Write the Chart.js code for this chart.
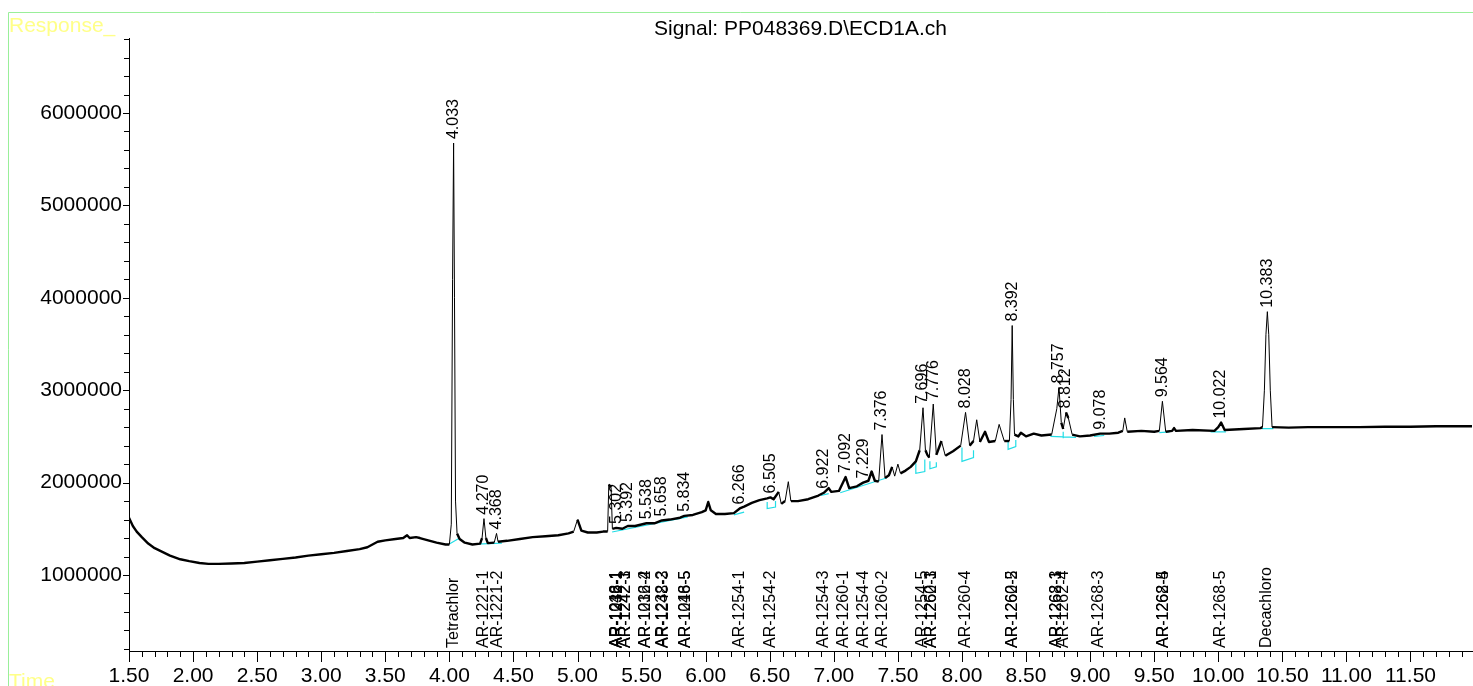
<!DOCTYPE html>
<html>
<head>
<meta charset="utf-8">
<script src="https://cdn.jsdelivr.net/npm/chart.js@4.4.1/dist/chart.umd.min.js"></script>
<style>
  html, body { margin: 0; padding: 0; background: #fff; }
  #wrap { width: 1473px; height: 686px; position: relative; }
</style>
</head>
<body>
<div id="wrap"><canvas id="chromChart"></canvas></div>
<script>
// retention time (min) and detector response
var times = [1.50,1.53,1.56,1.60,1.65,1.70,1.76,1.82,1.90,1.97,2.05,2.12,2.20,2.30,2.40,2.50,2.60,2.70,2.80,2.90,
  3.00,3.10,3.20,3.30,3.36,3.40,3.44,3.50,3.58,3.64,3.67,3.69,3.74,3.77,3.82,3.90,3.97,4.00,4.015,4.025,
  4.033,4.040,4.048,4.06,4.08,4.12,4.18,4.24,4.255,4.270,4.285,4.30,4.35,4.368,4.38,4.45,4.55,4.65,4.75,4.85,
  4.93,4.97,5.00,5.03,5.08,5.15,5.20,5.235,5.244,5.262,5.272,5.302,5.35,5.392,5.45,5.538,5.60,5.658,5.72,5.80,
  5.834,5.90,5.97,6.00,6.02,6.04,6.08,6.15,6.22,6.266,6.30,6.36,6.42,6.48,6.505,6.53,6.57,6.59,6.62,6.645,
  6.665,6.72,6.80,6.88,6.922,6.96,6.98,7.04,7.092,7.12,7.18,7.229,7.27,7.295,7.32,7.35,7.376,7.40,7.43,7.455,
  7.475,7.50,7.52,7.56,7.60,7.64,7.67,7.696,7.715,7.73,7.745,7.776,7.80,7.84,7.87,7.93,7.99,8.028,8.06,8.09,
  8.115,8.14,8.18,8.21,8.26,8.29,8.33,8.37,8.383,8.392,8.401,8.41,8.44,8.46,8.50,8.56,8.62,8.70,8.74,8.757,
  8.775,8.79,8.812,8.83,8.86,8.92,9.00,9.078,9.15,9.22,9.255,9.27,9.29,9.40,9.50,9.54,9.564,9.59,9.64,9.655,
  9.67,9.80,9.97,10.00,10.022,10.05,10.20,10.33,10.345,10.36,10.372,10.383,10.394,10.406,10.42,10.55,10.70,10.90,11.10,11.30,
  11.50,11.70,11.98];
var response = [1620000,1530000,1470000,1410000,1340000,1290000,1250000,1210000,1170000,1150000,1130000,1120000,1120000,1125000,1130000,1145000,1160000,1175000,1190000,1210000,
  1225000,1240000,1260000,1280000,1300000,1330000,1360000,1375000,1390000,1400000,1430000,1400000,1410000,1400000,1380000,1350000,1330000,1330000,1550000,4200000,
  5675000,4000000,1800000,1450000,1390000,1350000,1330000,1340000,1400000,1610000,1400000,1345000,1350000,1450000,1360000,1370000,1390000,1410000,1420000,1430000,
  1450000,1470000,1600000,1480000,1460000,1460000,1470000,1470000,1980000,1950000,1500000,1510000,1500000,1530000,1530000,1560000,1560000,1590000,1600000,1620000,
  1640000,1650000,1680000,1700000,1790000,1700000,1660000,1660000,1670000,1720000,1740000,1780000,1810000,1830000,1840000,1820000,1900000,1770000,1800000,2010000,
  1800000,1800000,1820000,1860000,1890000,1940000,1900000,1910000,2060000,1940000,1960000,2000000,2020000,2120000,2020000,2010000,2520000,2050000,2080000,2170000,
  2070000,2200000,2100000,2130000,2170000,2230000,2350000,2810000,2350000,2300000,2270000,2850000,2300000,2450000,2290000,2340000,2400000,2760000,2400000,2450000,
  2680000,2440000,2550000,2440000,2450000,2630000,2450000,2450000,2900000,3700000,2900000,2520000,2500000,2540000,2500000,2530000,2510000,2520000,2800000,3030000,
  2650000,2580000,2760000,2700000,2520000,2500000,2510000,2530000,2530000,2540000,2560000,2700000,2550000,2560000,2550000,2560000,2880000,2550000,2560000,2590000,
  2560000,2570000,2560000,2600000,2650000,2570000,2580000,2590000,2600000,3000000,3600000,3850000,3600000,3000000,2600000,2595000,2600000,2600000,2600000,2605000,
  2605000,2610000,2610000];

// integration baselines (cyan), each a short polyline of [time, response]
var baseLines = [
  [[4.00,1335000],[4.08,1400000]],
  [[4.21,1335000],[4.41,1345000]],
  [[5.27,1465000],[5.86,1630000]],
  [[6.22,1650000],[6.30,1680000]],
  [[6.48,1790000],[6.48,1720000],[6.545,1735000],[6.545,1800000]],
  [[6.90,1860000],[6.96,1880000]],
  [[7.05,1890000],[7.41,2050000]],
  [[7.64,2210000],[7.64,2100000],[7.71,2120000],[7.71,2250000]],
  [[7.75,2230000],[7.75,2150000],[7.80,2170000],[7.80,2220000]],
  [[8.00,2380000],[8.00,2230000],[8.09,2270000],[8.09,2350000]],
  [[8.36,2440000],[8.36,2360000],[8.42,2390000],[8.42,2460000]],
  [[8.69,2500000],[8.89,2490000]],
  [[8.79,2480000],[8.79,2550000]],
  [[9.03,2500000],[9.11,2510000]],
  [[9.54,2540000],[9.62,2550000]],
  [[9.94,2550000],[10.06,2550000]],
  [[10.34,2585000],[10.43,2585000]]
];

var peakTimes = [4.033,4.270,4.368,5.302,5.392,5.538,5.658,5.834,6.266,6.505,6.922,7.092,7.229,7.376,7.696,7.776,8.028,8.392,8.757,8.812,9.078,9.564,10.022,10.383];

var compoundTimes = [4.035,4.27,4.375,5.305,5.305,5.31,5.375,5.375,5.53,5.535,5.665,5.67,5.84,5.845,
  6.265,6.51,6.92,7.08,7.23,7.38,7.69,7.76,7.765,8.03,8.395,8.395,8.735,8.74,8.79,9.07,9.57,9.575,10.02,10.38];
var compoundNames = ["Tetrachlor","AR-1221-1","AR-1221-2","AR-1016-1","AR-1248-1","AR-1232-1","AR-1242-1","AR-1242-3","AR-1232-4","AR-1016-2","AR-1232-2","AR-1248-3","AR-1016-5","AR-1248-5",
  "AR-1254-1","AR-1254-2","AR-1254-3","AR-1260-1","AR-1254-4","AR-1260-2","AR-1254-5","AR-1260-3","AR-1262-1","AR-1260-4","AR-1260-5","AR-1262-2","AR-1268-1","AR-1262-3","AR-1262-4","AR-1268-3","AR-1268-4","AR-1262-5","AR-1268-5","Decachloro"];

var xTickValues = [1.5,2.0,2.5,3.0,3.5,4.0,4.5,5.0,5.5,6.0,6.5,7.0,7.5,8.0,8.5,9.0,9.5,10.0,10.5,11.0,11.5];
var yTickValues = [1000000,2000000,3000000,4000000,5000000,6000000];

var traceData = times.map(function (t, i) { return {x: t, y: response[i]}; });
var cyanData = [];
baseLines.forEach(function (seg) {
  seg.forEach(function (p) { cyanData.push({x: p[0], y: p[1]}); });
  cyanData.push({x: seg[seg.length - 1][0], y: null});
});

var FONT = "'Liberation Sans', Arial, sans-serif";

// frame, titles, minor/major ticks and peak annotations
var decor = {
  id: 'decor',
  beforeDraw: function (chart) {
    var ctx = chart.ctx;
    ctx.save();
    ctx.strokeStyle = '#99ef99';
    ctx.lineWidth = 1;
    ctx.beginPath();
    ctx.moveTo(8.5, 686);
    ctx.lineTo(8.5, 12.5);
    ctx.lineTo(1473, 12.5);
    ctx.stroke();
    ctx.fillStyle = '#ffff88';
    ctx.font = '21px ' + FONT;
    ctx.textAlign = 'left';
    ctx.textBaseline = 'alphabetic';
    ctx.fillText('Response_', 9, 32);
    ctx.fillText('Time', 9, 688);
    ctx.fillStyle = '#000';
    ctx.textAlign = 'center';
    ctx.fillText('Signal: PP048369.D\\ECD1A.ch', (chart.chartArea.left + chart.chartArea.right) / 2, 35);
    ctx.restore();
  },
  afterDatasetsDraw: function (chart) {
    var ctx = chart.ctx, xs = chart.scales.x, ys = chart.scales.y;
    var area = chart.chartArea;
    ctx.save();
    ctx.strokeStyle = '#000';
    ctx.lineWidth = 1;
    ctx.beginPath();
    for (var k = 15; k * 0.1 <= xs.max + 1e-9; k++) {
      var px = Math.round(xs.getPixelForValue(k / 10)) + 0.5;
      var len = (k % 5 === 0) ? 11 : 6;
      ctx.moveTo(px, area.bottom);
      ctx.lineTo(px, area.bottom + len);
    }
    for (var j = 1; j * 200000 <= ys.max; j++) {
      var v = j * 200000;
      if (v < ys.min) continue;
      var py = Math.round(ys.getPixelForValue(v)) + 0.5;
      var l = (j % 5 === 0) ? 6 : 5;
      ctx.moveTo(area.left - l, py);
      ctx.lineTo(area.left, py);
    }
    ctx.stroke();

    ctx.fillStyle = '#000';
    ctx.font = '16px ' + FONT;
    ctx.textAlign = 'left';
    ctx.textBaseline = 'middle';
    peakTimes.forEach(function (pt) {
      var top = 0;
      times.forEach(function (t, i) {
        if (Math.abs(t - pt) <= 0.012 && response[i] > top) top = response[i];
      });
      var x = xs.getPixelForValue(pt);
      var y = ys.getPixelForValue(top) - 4;
      ctx.save();
      ctx.translate(x, y);
      ctx.rotate(-Math.PI / 2);
      ctx.fillText(pt.toFixed(3), 0, 0);
      ctx.restore();
    });
    compoundTimes.forEach(function (ct, i) {
      var x = xs.getPixelForValue(ct);
      ctx.save();
      ctx.translate(x, area.bottom - 3);
      ctx.rotate(-Math.PI / 2);
      ctx.fillText(compoundNames[i], 0, 0);
      ctx.restore();
    });
    ctx.restore();
  }
};

new Chart(document.getElementById('chromChart'), {
  type: 'line',
  data: {
    datasets: [{
      data: traceData,
      borderColor: '#000',
      borderWidth: 2,
      borderJoinStyle: 'round',
      pointRadius: 0,
      tension: 0,
      segment: {
        borderWidth: function (c) {
          var dx = Math.abs(c.p1.x - c.p0.x), dy = Math.abs(c.p1.y - c.p0.y);
          return dy > 2 * dx + 4 ? 1 : 2.4;
        }
      }
    }, {
      data: cyanData,
      borderColor: '#22dde6',
      borderWidth: 1.2,
      pointRadius: 0,
      spanGaps: false,
      tension: 0
    }]
  },
  options: {
    responsive: true,
    maintainAspectRatio: false,
    animation: false,
    layout: { padding: { top: 38, right: 1, left: 0, bottom: 0 } },
    plugins: { legend: { display: false }, title: { display: false }, tooltip: { enabled: false } },
    scales: {
      x: {
        type: 'linear',
        min: 1.5,
        max: 11.98,
        afterBuildTicks: function (scale) {
          scale.ticks = xTickValues.map(function (v) { return {value: v}; });
        },
        afterFit: function (scale) { scale.height = 35; },
        grid: { display: false, drawTicks: false },
        border: { display: true, color: '#000', width: 1 },
        ticks: {
          padding: 13,
          maxRotation: 0,
          autoSkip: false,
          color: '#000',
          font: { family: FONT, size: 21 },
          callback: function (v) { return Number(v).toFixed(2); }
        }
      },
      y: {
        min: 177500,
        max: 6811700,
        afterBuildTicks: function (scale) {
          scale.ticks = yTickValues.map(function (v) { return {value: v}; });
        },
        afterFit: function (scale) { scale.width = 129; },
        grid: { display: false, drawTicks: false },
        border: { display: true, color: '#000', width: 1 },
        ticks: {
          padding: 7,
          color: '#000',
          font: { family: FONT, size: 21 },
          callback: function (v) { return String(v); }
        }
      }
    }
  },
  plugins: [decor]
});
</script>
</body>
</html>
